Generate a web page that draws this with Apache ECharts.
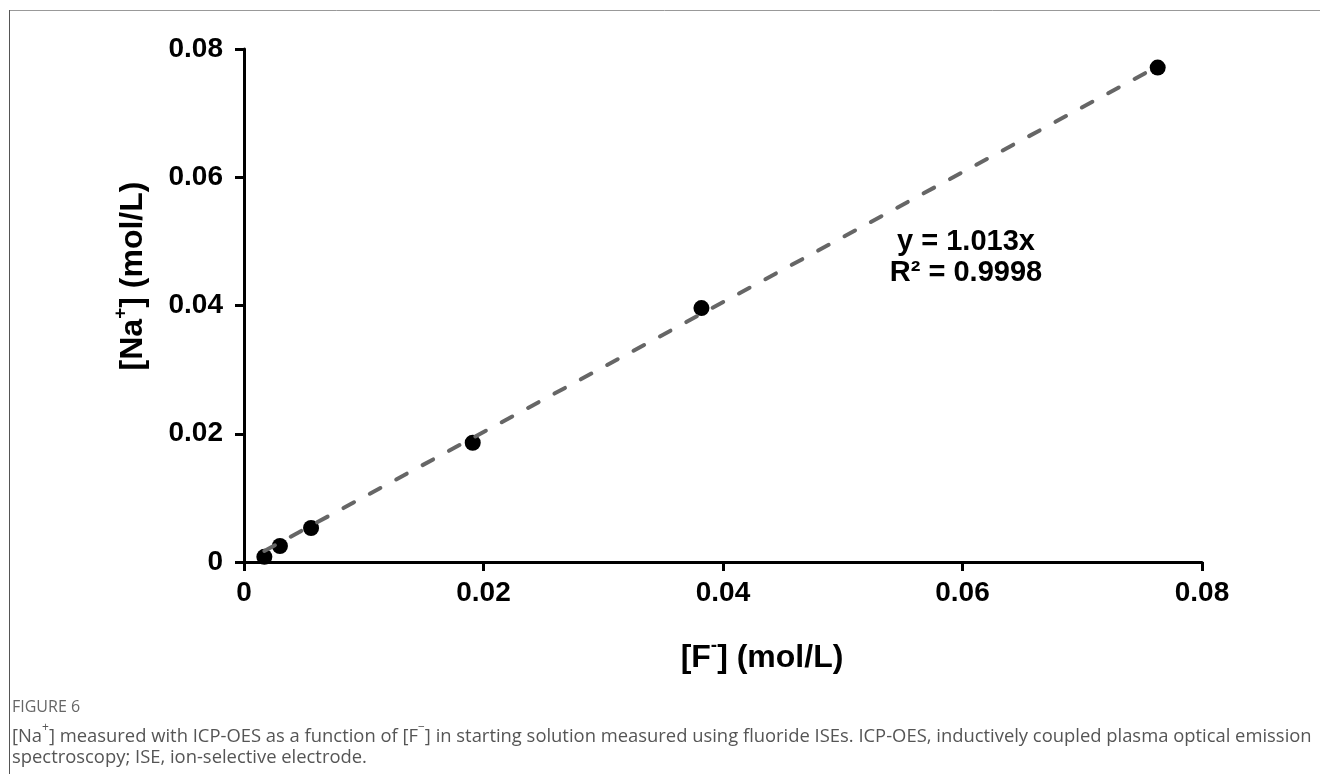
<!DOCTYPE html>
<html>
<head>
<meta charset="utf-8">
<script src="https://cdn.jsdelivr.net/npm/echarts@6/dist/echarts.min.js"></script>
<style>
html,body{margin:0;padding:0;background:#fff;}
#c{width:1320px;height:774px;}
</style>
</head>
<body>
<div id="c"></div>
<script>
// Data
var fluoride = [0.0017, 0.0030, 0.0056, 0.0191, 0.0382, 0.0763];   // [F-] (mol/L)
var sodium   = [0.0008, 0.0025, 0.0053, 0.0186, 0.0396, 0.0771];   // [Na+] (mol/L)
var slope = 1.013;
var rSquared = '0.9998';
var xTicks = [0, 0.02, 0.04, 0.06, 0.08];
var yTicks = [0, 0.02, 0.04, 0.06, 0.08];

var points = fluoride.map(function (x, i) { return [x, sodium[i]]; });
var xMin = Math.min.apply(null, fluoride), xMax = Math.max.apply(null, fluoride);
var trend = [[xMin, slope * xMin], [xMax, slope * xMax]];

var chart = echarts.init(document.getElementById('c'));
var font = '"Liberation Sans", Arial, sans-serif';
var capFont = '"Open Sans", "Noto Sans", sans-serif';

chart.setOption({
  animation: false,
  grid: {left: 244, right: 118, top: 49, bottom: 212, containLabel: false},
  xAxis: {
    type: 'value', min: xTicks[0], max: xTicks[xTicks.length - 1], interval: 0.02,
    axisLine: {show: true, lineStyle: {color: '#000', width: 3}},
    axisTick: {show: true, length: 9, lineStyle: {color: '#000', width: 3}},
    splitLine: {show: false},
    axisLabel: {color: '#000', fontSize: 28, fontWeight: 'bold', fontFamily: font, margin: 17}
  },
  yAxis: {
    type: 'value', min: yTicks[0], max: yTicks[yTicks.length - 1], interval: 0.02,
    axisLine: {show: true, onZero: false, lineStyle: {color: '#000', width: 3}},
    axisTick: {show: true, length: 9, lineStyle: {color: '#000', width: 3}},
    splitLine: {show: false},
    axisLabel: {color: '#000', fontSize: 28, fontWeight: 'bold', fontFamily: font, margin: 21}
  },
  series: [
    {
      type: 'scatter', data: points, symbol: 'circle', symbolSize: 16,
      itemStyle: {color: '#000', opacity: 1}, z: 2
    },
    {
      type: 'line', data: trend, showSymbol: false, symbol: 'none', z: 3,
      lineStyle: {color: '#666', width: 4, type: [12, 18], cap: 'round'}
    }
  ],
  graphic: [
    {type: 'line', shape: {x1: 9, y1: 10.5, x2: 1320, y2: 10.5}, style: {stroke: '#999', lineWidth: 1}, silent: true},
    {type: 'line', shape: {x1: 9.5, y1: 10, x2: 9.5, y2: 774}, style: {stroke: '#555', lineWidth: 1}, silent: true},
    {
      type: 'text', x: 966, y: 242,
      style: {text: 'y = ' + slope + 'x', font: 'bold 29px ' + font, fill: '#000', align: 'center', verticalAlign: 'middle'}
    },
    {
      type: 'text', x: 966, y: 273,
      style: {text: 'R\u00b2 = ' + rSquared, font: 'bold 29px ' + font, fill: '#000', align: 'center', verticalAlign: 'middle'}
    },
    {
      type: 'text', x: 762, y: 655,
      style: {
        text: '{b|[F}{s|-}{b|] (mol/L)}', align: 'center', verticalAlign: 'middle',
        rich: {
          b: {font: 'bold 32px ' + font, fill: '#000', lineHeight: 38, verticalAlign: 'bottom'},
          s: {font: 'bold 19px ' + font, fill: '#000', lineHeight: 38, verticalAlign: 'top'}
        }
      }
    },
    {
      type: 'text', x: 130, y: 276, rotation: Math.PI / 2,
      style: {
        text: '{b|[Na}{s|+}{b|] (mol/L)}', align: 'center', verticalAlign: 'middle',
        rich: {
          b: {font: 'bold 32px ' + font, fill: '#000', lineHeight: 38, verticalAlign: 'bottom'},
          s: {font: 'bold 19px ' + font, fill: '#000', lineHeight: 38, verticalAlign: 'top'}
        }
      }
    },
    {
      type: 'text', x: 12, y: 707,
      style: {text: 'FIGURE 6', font: '16px ' + capFont, fill: '#666', verticalAlign: 'middle'}
    },
    {
      type: 'text', x: 12, y: 734,
      style: {
        text: '{t|[Na}{s|+}{t|] measured with ICP-OES as a function of [F}{s|\u2212}{t|] in starting solution measured using fluoride ISEs. ICP-OES, inductively coupled plasma optical emission}',
        verticalAlign: 'middle',
        rich: {
          t: {font: '18.4px ' + capFont, fill: '#555', lineHeight: 24, verticalAlign: 'bottom'},
          s: {font: '12px ' + capFont, fill: '#555', lineHeight: 24, verticalAlign: 'top'}
        }
      }
    },
    {
      type: 'text', x: 12, y: 758,
      style: {text: 'spectroscopy; ISE, ion-selective electrode.', font: '18.4px ' + capFont, fill: '#555', verticalAlign: 'middle'}
    }
  ]
});
</script>
</body>
</html>
